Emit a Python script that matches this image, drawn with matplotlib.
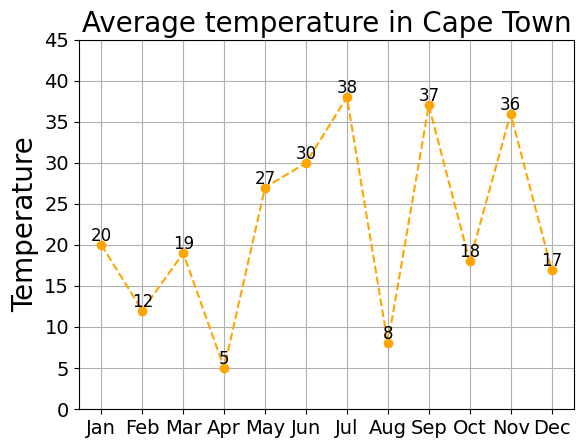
import matplotlib
matplotlib.use("Agg")
import matplotlib.pyplot as plt

months = ["Jan", "Feb", "Mar", "Apr", "May", "Jun", "Jul", "Aug", "Sep", "Oct", "Nov", "Dec"]
temps = [20, 12, 19, 5, 27, 30, 38, 8, 37, 18, 36, 17]
yticks = list(range(0, 50, 5))

fig, ax = plt.subplots(figsize=(5.84, 4.48), dpi=100)
fig.subplots_adjust(left=0.135, right=0.983, top=0.911, bottom=0.087)

ax.plot(months, temps, linestyle="--", marker="o", color="orange")
for m, t in zip(months, temps):
    ax.text(m, t, str(t), ha="center", va="bottom", fontsize=12)

ax.set_ylim(0, 45)
ax.set_yticks(yticks)
ax.set_title("Average temperature in Cape Town", fontsize=20)
ax.set_ylabel("Temperature", fontsize=20)
ax.tick_params(labelsize=14)
ax.grid(True)

fig.savefig("out.png", dpi=100)
